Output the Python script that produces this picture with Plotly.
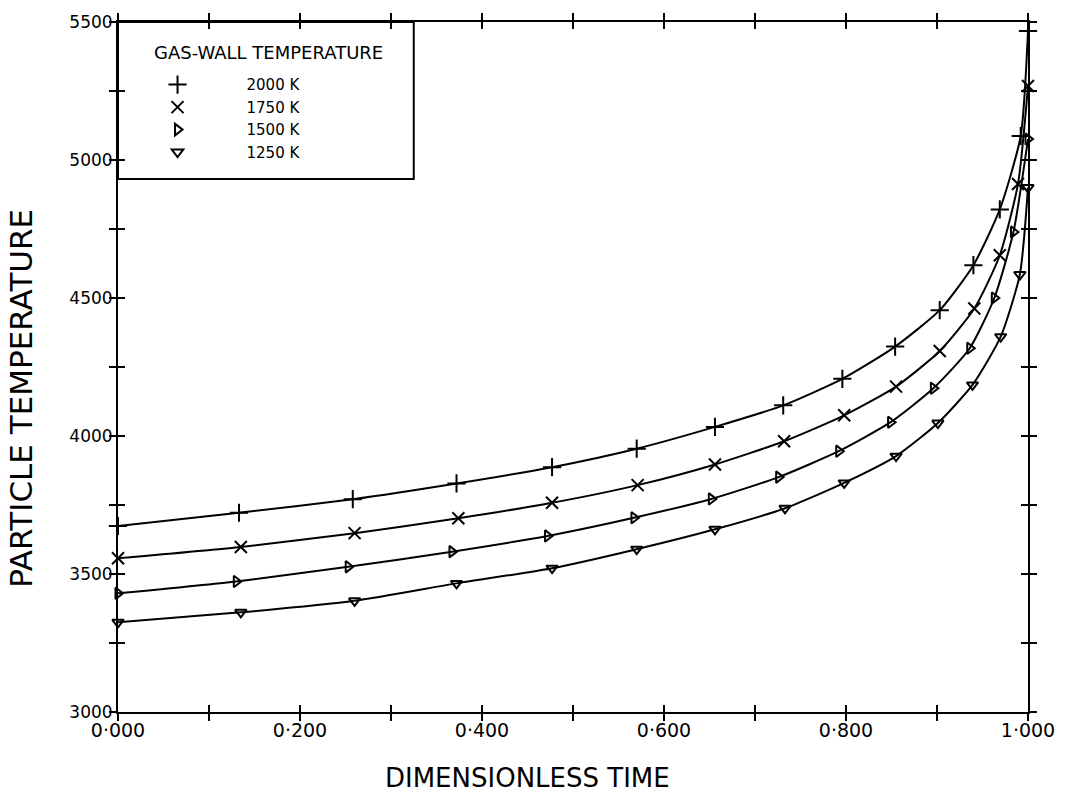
import plotly.graph_objects as go

# Dimensionless time at marker positions
t_2000 = [0.0, 0.133, 0.258, 0.372, 0.477, 0.570, 0.656, 0.731, 0.796, 0.854, 0.903, 0.940, 0.969, 0.992, 1.0]
T_2000 = [3674, 3722, 3771, 3828, 3887, 3954, 4033, 4111, 4207, 4324, 4456, 4619, 4821, 5087, 5467]

t_1750 = [0.0, 0.135, 0.260, 0.374, 0.477, 0.571, 0.656, 0.732, 0.798, 0.855, 0.903, 0.941, 0.969, 0.989, 1.0]
T_1750 = [3557, 3598, 3648, 3702, 3758, 3822, 3897, 3981, 4075, 4179, 4308, 4462, 4655, 4913, 5268]

t_1500 = [0.0, 0.130, 0.253, 0.367, 0.472, 0.567, 0.652, 0.726, 0.792, 0.849, 0.896, 0.936, 0.963, 0.984, 1.0]
T_1500 = [3430, 3473, 3526, 3581, 3638, 3704, 3772, 3851, 3945, 4050, 4173, 4318, 4500, 4739, 5076]

t_1250 = [0.0, 0.135, 0.260, 0.372, 0.477, 0.570, 0.656, 0.733, 0.798, 0.855, 0.901, 0.939, 0.970, 0.991, 1.0]
T_1250 = [3325, 3361, 3403, 3466, 3521, 3590, 3662, 3738, 3830, 3927, 4047, 4185, 4360, 4585, 4900]

series_names = ["2000 K", "1750 K", "1500 K", "1250 K"]
legend_title = "GAS-WALL TEMPERATURE"
x_title = "DIMENSIONLESS TIME"
y_title = "PARTICLE TEMPERATURE"
x_tick_vals = [0.0, 0.1, 0.2, 0.3, 0.4, 0.5, 0.6, 0.7, 0.8, 0.9, 1.0]
x_tick_text = ["0·000", "", "0·200", "", "0·400", "", "0·600", "", "0·800", "", "1·000"]
y_tick_vals = [3000, 3250, 3500, 3750, 4000, 4250, 4500, 4750, 5000, 5250, 5500]
y_tick_text = ["3000", "", "3500", "", "4000", "", "4500", "", "5000", "", "5500"]

FONT = "DejaVu Sans"
series = [
    (t_2000, T_2000, series_names[0], "cross-thin", 13),
    (t_1750, T_1750, series_names[1], "x-thin", 12),
    (t_1500, T_1500, series_names[2], "triangle-right-open", 10),
    (t_1250, T_1250, series_names[3], "triangle-down-open", 10),
]

fig = go.Figure()
for t, T, name, sym, sz in series:
    fig.add_trace(go.Scatter(x=t, y=T, mode="lines", line=dict(color="black", width=2, shape="spline", smoothing=0.6),
                             showlegend=False, hoverinfo="skip", cliponaxis=False))
for t, T, name, sym, sz in series:
    fig.add_trace(go.Scatter(x=t, y=T, mode="markers", name=name,
                             marker=dict(symbol=sym, size=sz, color="black", line=dict(color="black", width=2)),
                             cliponaxis=False))
# invisible trace on secondary (overlay) axes used for cross ticks
fig.add_trace(go.Scatter(x=[0], y=[3000], xaxis="x2", yaxis="y2", mode="markers",
                         marker=dict(opacity=0), showlegend=False, hoverinfo="skip"))

common = dict(showline=True, linecolor="black", linewidth=2, showgrid=False, zeroline=False,
              ticklen=7, tickwidth=2, tickcolor="black", mirror="allticks")
fig.update_layout(
    width=1067, height=799,
    margin=dict(l=118, r=36, t=19, b=87),
    paper_bgcolor="white", plot_bgcolor="white",
    font=dict(family=FONT, color="black"),
    xaxis=dict(range=[0, 1], tickmode="array", tickvals=x_tick_vals, ticktext=x_tick_text,
               ticks="inside", tickfont=dict(size=19, family=FONT), **common),
    yaxis=dict(range=[3000, 5500], tickmode="array", tickvals=y_tick_vals, ticktext=y_tick_text,
               ticks="inside", tickfont=dict(size=17, family=FONT), **common),
    xaxis2=dict(overlaying="x", matches="x", range=[0, 1], tickmode="array", tickvals=x_tick_vals,
                ticks="outside", showticklabels=False, **common),
    yaxis2=dict(overlaying="y", matches="y", range=[3000, 5500], tickmode="array", tickvals=y_tick_vals,
                ticks="outside", showticklabels=False, **common),
    showlegend=True,
    legend=dict(x=-0.0104, y=0.9328, xanchor="left", yanchor="top", bgcolor="rgba(0,0,0,0)",
                borderwidth=0, itemwidth=128,
                font=dict(size=15, family=FONT), tracegroupgap=0),
    shapes=[dict(type="rect", xref="paper", yref="paper", x0=0, x1=0.325, y0=0.7725, y1=1.0,
                 line=dict(color="black", width=2))],
    annotations=[
        dict(text=legend_title, xref="paper", yref="paper", x=(153 - 118.5) / 912, y=(711.7 - 50) / 692.2,
             xanchor="left", yanchor="middle", showarrow=False, font=dict(size=18, family=FONT)),
        dict(text=x_title, xref="paper", yref="paper", x=0.45, y=-0.096,
             xanchor="center", yanchor="middle", showarrow=False, font=dict(size=26, family=FONT)),
        dict(text=y_title, xref="paper", yref="paper", x=-0.106, y=0.4546,
             xanchor="center", yanchor="middle", showarrow=False, textangle=-90,
             font=dict(size=31, family=FONT)),
    ],
)
fig.write_html("out.html")
